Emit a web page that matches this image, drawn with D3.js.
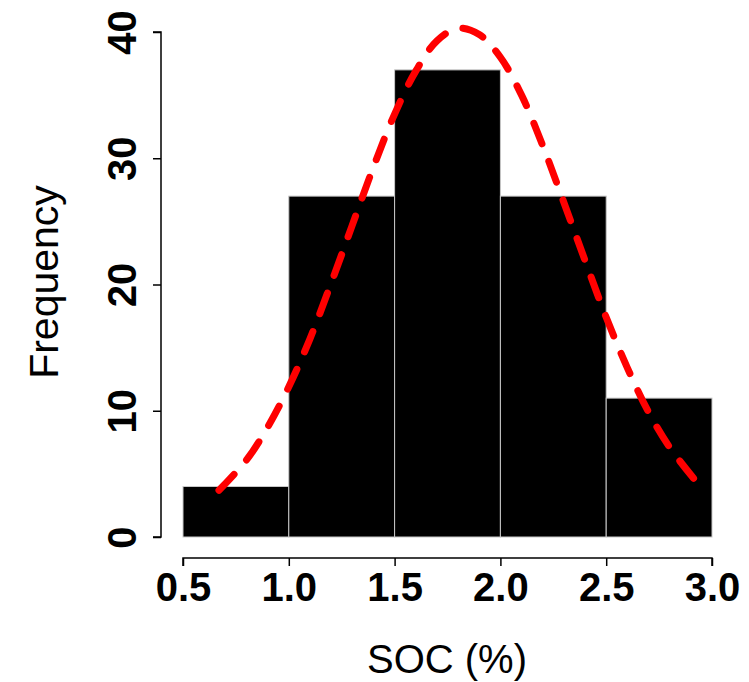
<!DOCTYPE html>
<html>
<head>
<meta charset="utf-8">
<script src="https://cdn.jsdelivr.net/npm/d3@7"></script>
<style>
  body { margin: 0; background: #fff; }
  text { font-family: 'Liberation Sans', Arial, sans-serif; }
</style>
</head>
<body>
<div id="chart"></div>
<script>
// histogram bins (SOC %) and counts
const binStarts = [0.5, 1.0, 1.5, 2.0, 2.5]
const binWidth = 0.5
const counts = [4, 27, 37, 27, 11]

// fitted density curve
const curveX = [0.67, 0.8, 0.9, 1.0, 1.1, 1.2, 1.3, 1.4, 1.5, 1.6, 1.7, 1.8,
  1.9, 2.0, 2.1, 2.2, 2.3, 2.4, 2.5, 2.6, 2.7, 2.8, 2.93]
const curveY = [3.7, 6.1, 8.7, 11.9, 15.7, 20.1, 24.7, 29.3, 33.5, 36.9, 39.3, 40.3,
  39.8, 38.0, 35.0, 31.0, 26.5, 21.9, 17.4, 13.4, 9.9, 7.1, 4.3]

const xTicks = [0.5, 1.0, 1.5, 2.0, 2.5, 3.0]
const yTicks = [0, 10, 20, 30, 40]

const width = 749
const height = 682

const svg = d3
  .select('#chart')
  .append('svg')
  .attr('width', width)
  .attr('height', height)

const xScale = d3.scaleLinear().domain([0.5, 3.0]).range([183, 712])
const yScale = d3.scaleLinear().domain([0, 40]).range([537, 32])

const bins = binStarts.map((b, i) => ({ x0: b, x1: b + binWidth, n: counts[i] }))

svg
  .selectAll('.bar')
  .data(bins)
  .enter()
  .append('rect')
  .attr('class', 'bar')
  .attr('x', d => xScale(d.x0))
  .attr('width', d => xScale(d.x1) - xScale(d.x0))
  .attr('y', d => yScale(d.n))
  .attr('height', d => yScale(0) - yScale(d.n))
  .attr('fill', '#000')
  .attr('stroke', '#c8c8c8')
  .attr('stroke-width', 1)

const curve = curveX.map((x, i) => ({ x: x, y: curveY[i] }))

const line = d3
  .line()
  .x(d => xScale(d.x))
  .y(d => yScale(d.y))
  .curve(d3.curveCatmullRom)

svg
  .append('path')
  .datum(curve)
  .attr('d', line)
  .attr('fill', 'none')
  .attr('stroke', '#ff0000')
  .attr('stroke-width', 7)
  .attr('stroke-linecap', 'round')
  .attr('stroke-dasharray', '22,19')

// x axis, R style
const xAxis = svg
  .append('g')
  .attr('transform', 'translate(0,558)')
  .call(d3.axisBottom(xScale).tickValues(xTicks).tickSize(8).tickPadding(7).tickFormat(d3.format('.1f')))

xAxis.select('.domain').attr('d', 'M' + xScale(0.5) + ',8V0H' + xScale(3.0) + 'V8').attr('stroke-width', 1.5)
xAxis.selectAll('.tick line').attr('stroke-width', 1.5)
xAxis
  .selectAll('.tick text')
  .attr('font-size', 40)
  .attr('font-weight', 'bold')
  .attr('fill', '#000')
  .attr('font-family', "'Liberation Sans', Arial, sans-serif")

// y axis
const yAxis = svg
  .append('g')
  .attr('transform', 'translate(161,0)')
  .call(d3.axisLeft(yScale).tickValues(yTicks).tickSize(8).tickFormat(d3.format('d')))

yAxis.select('.domain').attr('d', 'M-8,' + yScale(40) + 'H0V' + yScale(0) + 'H-8').attr('stroke-width', 1.5)
yAxis.selectAll('.tick line').attr('stroke-width', 1.5)
yAxis
  .selectAll('.tick text')
  .attr('font-size', 40)
  .attr('font-weight', 'bold')
  .attr('fill', '#000')
  .attr('font-family', "'Liberation Sans', Arial, sans-serif")
  .attr('text-anchor', 'middle')
  .attr('x', 0)
  .attr('dy', 0)
  .attr('transform', 'translate(-25,0) rotate(-90)')

// axis titles
svg
  .append('text')
  .attr('x', 447)
  .attr('y', 673)
  .attr('text-anchor', 'middle')
  .attr('font-size', 40)
  .text('SOC (%)')

svg
  .append('text')
  .attr('transform', 'translate(58,282) rotate(-90)')
  .attr('text-anchor', 'middle')
  .attr('font-size', 41)
  .text('Frequency')
</script>
</body>
</html>
